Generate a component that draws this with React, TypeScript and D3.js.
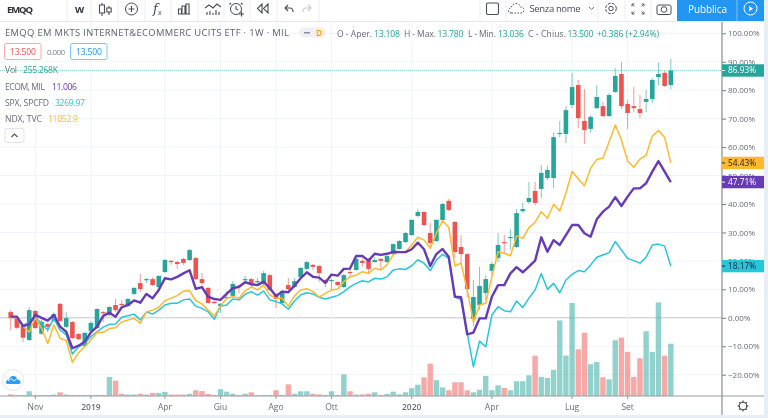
import { useEffect, useRef } from "react";
import * as d3 from "d3";

const WIDTH = 768;
const HEIGHT = 418;

// percent change from the first bar
const openVals = [
  2.0, -0.1, -2.8, -7.8, 2.4, -5.6, -2.2, -1.1, 4.9, -3.2,
  -1.5, -5.7, -9.9, -4.6, -3.6, 2.0, 1.0, 4.5, 4.9, 4.1,
  8.4, 12.2, 13.3, 13.6, 10.8, 16.1, 20.0, 19.6, 20.7, 20.3,
  21.0, 13.6, 10.5, 5.6, 4.1, 7.0, 7.7, 11.2, 13.3, 13.6,
  12.6, 11.9, 15.0, 8.0, 5.2, 11.5, 10.8, 14.3, 17.2, 18.6,
  18.2, 13.3, 12.9, 12.6, 10.8, 16.1, 16.8, 20.0, 20.7, 19.6,
  20.7, 19.6, 22.4, 24.2, 26.6, 29.1, 35.8, 37.2, 29.8, 27.0,
  34.4, 41.1, 33.7, 24.9, 22.4, -0.4, 4.5, 8.7, 16.5, 21.0,
  26.6, 28.1, 24.9, 37.5, 40.7, 44.6, 45.3, 49.1, 49.1, 64.6,
  64.6, 74.8, 81.8, 69.2, 66.4, 73.7, 74.4, 70.9, 79.4, 85.7,
  75.2, 74.4, 73.4, 75.9, 76.9, 84.6, 86.1, 81.8,
];
const highVals = [
  2.7, 0.3, -2.2, 3.8, 2.7, -0.8, -1.8, 2.0, 5.2, 2.0,
  -1.1, -5.3, -5.0, -1.1, 3.4, 2.4, 4.1, 6.6, 6.3, 7.0,
  10.8, 15.4, 14.0, 14.3, 15.0, 20.7, 20.3, 20.0, 21.0, 24.2,
  21.4, 15.7, 10.8, 5.9, 5.2, 9.4, 12.9, 11.5, 14.7, 14.0,
  14.0, 16.5, 15.4, 8.7, 9.8, 14.0, 14.0, 17.9, 20.0, 18.9,
  18.6, 13.6, 13.6, 12.9, 15.4, 17.2, 21.0, 20.7, 21.0, 21.4,
  21.0, 22.1, 26.2, 27.3, 30.2, 34.7, 38.2, 37.5, 33.3, 34.7,
  40.4, 41.8, 34.0, 29.1, 22.8, 13.3, 17.9, 15.0, 19.6, 29.8,
  29.1, 31.2, 38.2, 40.4, 47.7, 47.7, 53.7, 53.4, 65.0, 69.2,
  74.4, 86.1, 83.6, 80.4, 71.3, 81.8, 75.9, 79.0, 87.8, 89.9,
  76.6, 81.1, 78.3, 80.1, 84.3, 89.6, 86.8, 91.0,
];
const lowVals = [
  -4.3, -3.9, -8.5, -8.2, -3.9, -6.0, -5.0, -1.5, -1.5, -3.6,
  -7.5, -7.8, -10.3, -5.0, -3.9, -1.5, 0.6, 2.0, 3.4, 3.8,
  8.0, 9.1, 12.2, 11.2, 10.5, 15.7, 18.6, 17.2, 18.6, 20.0,
  13.3, 11.5, 4.9, 4.9, 1.7, 6.6, 7.3, 8.7, 12.9, 11.2,
  11.9, 11.5, 9.4, 3.4, 4.9, 9.8, 10.5, 14.0, 16.8, 16.8,
  12.6, 10.8, 9.8, 11.2, 10.5, 14.3, 16.5, 17.9, 15.4, 19.3,
  16.8, 19.3, 22.1, 23.8, 26.3, 28.8, 35.4, 32.3, 24.2, 26.6,
  34.0, 37.5, 21.0, 18.6, 7.3, -2.9, 2.7, 6.3, 15.0, 19.6,
  22.8, 23.8, 24.5, 36.8, 40.0, 39.6, 42.1, 48.4, 45.6, 63.5,
  61.4, 73.7, 66.7, 61.1, 65.0, 73.4, 70.6, 70.6, 79.0, 73.4,
  66.4, 72.3, 70.2, 72.3, 75.5, 81.8, 81.1, 80.4,
];
const closeVals = [
  -0.1, -3.5, -7.0, 2.7, -3.6, -1.4, -3.2, 1.3, -1.1, -0.1,
  -7.1, -7.5, -5.3, -1.8, 3.1, 1.7, 3.8, 2.7, 4.5, 6.6,
  10.5, 10.1, 13.6, 11.5, 14.7, 20.3, 19.6, 18.9, 19.3, 23.8,
  13.6, 12.2, 5.2, 5.2, 4.9, 7.3, 11.9, 10.8, 13.6, 11.5,
  12.9, 15.7, 9.8, 6.6, 9.4, 10.1, 12.9, 17.5, 19.6, 17.9,
  15.7, 12.2, 13.3, 11.5, 15.0, 15.7, 20.7, 19.3, 17.2, 20.3,
  20.0, 21.7, 25.9, 27.0, 29.8, 34.4, 37.2, 32.6, 26.3, 34.4,
  40.0, 37.9, 23.1, 22.4, 10.1, 7.3, 11.2, 13.6, 18.9, 25.6,
  26.3, 28.4, 36.8, 38.2, 42.1, 40.4, 50.9, 52.0, 63.5, 65.0,
  73.0, 81.1, 70.2, 66.0, 70.6, 77.6, 70.9, 78.3, 85.0, 74.4,
  72.0, 73.7, 72.0, 76.9, 83.6, 85.7, 81.5, 86.93,
];
const ecomVals = [
  0.4, 0.4, -2.9, -2.2, 1.0, 0.0, -1.0, 1.0, -3.1, -4.9,
  -10.7, -9.8, -8.4, -5.1, -3.1, 0.7, 1.8, 0.4, 3.7, 4.5,
  6.1, 5.3, 8.4, 6.9, 9.8, 13.9, 13.5, 14.4, 15.6, 16.7,
  10.2, 10.8, 7.4, 6.6, 6.3, 8.4, 10.4, 10.9, 12.5, 11.8,
  11.5, 12.7, 10.4, 7.7, 9.2, 9.0, 11.3, 13.9, 16.0, 14.4,
  14.1, 12.3, 15.2, 14.8, 17.2, 17.3, 21.7, 21.7, 20.1, 22.5,
  22.1, 22.5, 23.2, 23.1, 23.1, 24.1, 26.4, 24.1, 18.2, 22.4,
  24.2, 21.5, 7.4, 7.2, -5.8, -5.2, -0.2, -0.2, 7.4, 11.5,
  11.5, 15.6, 17.8, 16.0, 18.0, 20.1, 28.3, 23.2, 27.3, 25.6,
  29.1, 32.6, 32.6, 29.7, 28.5, 34.6, 37.3, 39.1, 42.4, 39.3,
  42.6, 45.5, 45.5, 47.3, 51.4, 55.1, 51.4, 47.71,
];
const spxVals = [
  0.2, 0.0, -2.5, -1.8, 0.2, -2.0, -4.3, -0.2, -4.3, -6.0,
  -12.7, -10.2, -9.0, -6.6, -4.9, -3.3, -2.3, -2.2, 0.2, 0.7,
  1.3, -0.8, 2.1, 1.3, 2.7, 4.5, 5.1, 5.1, 6.3, 6.6,
  4.1, 3.3, 2.1, -0.5, 4.1, 4.5, 6.6, 6.3, 8.3, 9.2,
  8.0, 9.4, 6.3, 5.7, 4.9, 3.0, 5.9, 8.0, 8.8, 8.4,
  7.2, 6.6, 7.2, 7.8, 9.2, 10.9, 12.1, 13.0, 12.6, 13.9,
  13.6, 14.4, 16.8, 17.2, 17.0, 18.3, 20.4, 19.2, 16.6, 20.3,
  22.3, 20.9, 7.4, 6.3, -5.4, -17.2, -8.2, -10.2, 1.0, 3.9,
  2.5, 2.1, 5.9, 3.6, 6.9, 9.8, 15.6, 10.0, 12.1, 8.8,
  13.3, 15.3, 16.6, 16.2, 18.6, 21.3, 22.1, 22.9, 26.8, 23.8,
  20.9, 20.1, 19.2, 21.3, 25.6, 25.9, 25.2, 18.17,
];
const ndxVals = [
  0.2, 0.0, -3.0, -5.0, 0.0, -3.6, -9.0, -2.5, -7.2, -8.0,
  -15.6, -12.3, -10.2, -7.8, -5.2, -5.1, -3.8, -3.5, -1.5, -0.8,
  -0.2, -1.9, 2.1, 2.7, 3.7, 6.0, 6.9, 7.8, 9.4, 9.5,
  6.0, 4.9, 2.7, 0.6, 4.1, 6.9, 7.4, 6.9, 9.5, 10.9,
  9.8, 11.5, 8.0, 6.9, 6.9, 4.1, 7.7, 9.8, 10.2, 9.2,
  7.3, 8.6, 9.8, 10.1, 12.7, 14.4, 15.0, 16.2, 15.6, 17.4,
  16.8, 18.6, 22.1, 23.2, 23.2, 25.6, 28.3, 27.3, 24.4, 29.7,
  34.1, 31.8, 18.2, 19.2, 9.8, -1.4, 4.5, 5.1, 14.4, 23.2,
  22.7, 21.8, 28.8, 27.9, 31.7, 33.6, 37.3, 35.0, 39.9, 37.5,
  43.9, 51.4, 48.9, 46.4, 52.5, 55.7, 56.1, 61.9, 67.8, 62.5,
  55.1, 52.9, 55.8, 57.2, 63.9, 65.8, 63.4, 54.43,
];
// thousands
const volumeVals = [
  8, 5, 5, 23, 5, 5, 5, 7, 18, 7,
  5, 5, 5, 5, 5, 5, 93, 75, 11, 7,
  7, 11, 7, 15, 15, 20, 7, 7, 7, 11,
  28, 24, 10, 5, 33, 21, 11, 5, 11, 18,
  5, 5, 5, 28, 5, 57, 11, 23, 23, 11,
  8, 5, 23, 5, 106, 23, 7, 8, 11, 18,
  5, 10, 21, 8, 18, 38, 55, 91, 158, 77,
  42, 28, 67, 67, 28, 18, 31, 98, 28, 52,
  39, 28, 72, 72, 101, 197, 93, 88, 128, 369,
  197, 454, 228, 309, 155, 166, 91, 81, 272, 285,
  215, 93, 184, 316, 215, 457, 197, 255.268,
];

const yTicks = [100, 90, 80, 70, 60, 50, 40, 30, 20, 10, 0, -10, -20];
const timeTickIdx = [4, 13, 25, 34, 43, 52, 65, 78, 91, 100];
const timeTickLabels = ["Nov", "2019", "Apr", "Giu", "Ago", "Ott", "2020", "Apr", "Lug", "Set"];
const boldTimeLabels = ["2019", "2020"];

const UP = "#26a69a";
const DOWN = "#ef5350";
const PURPLE = "#673ab7";
const CYAN = "#26c6da";
const YELLOW = "#ffb92f";
const GRID = "#f0f3f9";
const TXT = "#6a6d78";
const FONT = "'Open Sans', sans-serif";

export default function App() {
  const ref = useRef<SVGSVGElement>(null);

  useEffect(() => {
    const svg = d3.select(ref.current);
    svg.selectAll("*").remove();
    svg.attr("width", WIDTH).attr("height", HEIGHT).style("font-family", FONT);

    const axisX = 722;
    const bottomY = 396;
    const topY = 22;

    const x = d3.scaleLinear().domain([0, openVals.length - 1]).range([10.7, 670.8]);
    const y = d3.scaleLinear().domain([100, -20]).range([33.3, 374.7]);
    const volY = d3.scaleLinear().domain([0, 255.268]).range([bottomY, bottomY - 52.3]);
    const idx = d3.range(openVals.length);

    svg.append("rect").attr("width", WIDTH).attr("height", HEIGHT).attr("fill", "#fff");

    // grid
    const grid = svg.append("g");
    grid.selectAll("line.h").data(yTicks).enter().append("line")
      .attr("x1", 0).attr("x2", axisX)
      .attr("y1", (d) => y(d)).attr("y2", (d) => y(d))
      .attr("stroke", (d) => (d === 0 ? "#c4c5c9" : GRID));
    grid.selectAll("line.v").data(timeTickIdx).enter().append("line")
      .attr("x1", (d) => x(d)).attr("x2", (d) => x(d))
      .attr("y1", topY).attr("y2", bottomY)
      .attr("stroke", GRID);

    // volume
    svg.append("g").selectAll("rect").data(idx).enter().append("rect")
      .attr("x", (i) => x(i) - 2.7).attr("width", 5.4)
      .attr("y", (i) => volY(volumeVals[i]))
      .attr("height", (i) => bottomY - volY(volumeVals[i]))
      .attr("fill", (i) => (closeVals[i] >= openVals[i] ? UP : DOWN))
      .attr("opacity", 0.5);

    // last price dotted line
    svg.append("line")
      .attr("x1", 0).attr("x2", axisX)
      .attr("y1", y(closeVals[107])).attr("y2", y(closeVals[107]))
      .attr("stroke", UP).attr("stroke-width", 1)
      .attr("stroke-dasharray", "1 1").attr("opacity", 0.5);

    // candles
    const candles = svg.append("g");
    candles.selectAll("line").data(idx).enter().append("line")
      .attr("x1", (i) => x(i)).attr("x2", (i) => x(i))
      .attr("y1", (i) => y(highVals[i])).attr("y2", (i) => y(lowVals[i]))
      .attr("stroke", (i) => (closeVals[i] >= openVals[i] ? UP : DOWN))
      .attr("stroke-opacity", 0.6);
    candles.selectAll("rect").data(idx).enter().append("rect")
      .attr("x", (i) => x(i) - 2.3).attr("width", 4.6)
      .attr("y", (i) => y(Math.max(openVals[i], closeVals[i])))
      .attr("height", (i) => Math.max(1.2, Math.abs(y(openVals[i]) - y(closeVals[i]))))
      .attr("fill", (i) => (closeVals[i] >= openVals[i] ? UP : DOWN));

    // compare lines
    const line = d3.line<number>().x((_, i) => x(i)).y((d) => y(d));
    const series: [number[], string, number][] = [
      [spxVals, CYAN, 1.5],
      [ndxVals, YELLOW, 1.5],
      [ecomVals, PURPLE, 2.4],
    ];
    series.forEach(([vals, color, w]) => {
      svg.append("path").datum(vals).attr("d", line)
        .attr("fill", "none").attr("stroke", color)
        .attr("stroke-width", w).attr("stroke-linejoin", "round");
    });

    // white behind the axes
    svg.append("rect").attr("x", axisX).attr("y", topY).attr("width", 42).attr("height", 393).attr("fill", "#fff");
    svg.append("rect").attr("x", 0).attr("y", bottomY).attr("width", 764).attr("height", 19).attr("fill", "#fff");

    // y axis
    const yAxis = d3.axisRight(y)
      .tickValues(yTicks)
      .tickSize(4)
      .tickPadding(2)
      .tickFormat((d) => `${(d as number) < 0 ? "\u2212" : ""}${Math.abs(d as number).toFixed(2)}%`);
    const yG = svg.append("g").attr("transform", `translate(${axisX},0)`).call(yAxis);
    yG.select(".domain").remove();
    yG.selectAll("line").attr("stroke", "#787b86");
    yG.selectAll("text").attr("fill", TXT).style("font-size", "8px").style("font-family", FONT);
    svg.append("line").attr("x1", axisX).attr("x2", axisX).attr("y1", topY).attr("y2", 415)
      .attr("stroke", "#8a8d96").attr("stroke-width", 1.2);

    // time axis
    svg.append("line").attr("x1", 0).attr("x2", 764).attr("y1", bottomY).attr("y2", bottomY)
      .attr("stroke", "#9a9ca4").attr("stroke-width", 1);
    const tG = svg.append("g");
    tG.selectAll("line").data(timeTickIdx).enter().append("line")
      .attr("x1", (d) => x(d)).attr("x2", (d) => x(d))
      .attr("y1", bottomY).attr("y2", bottomY + 3)
      .attr("stroke", "#9a9ca4");
    tG.selectAll("text").data(timeTickIdx).enter().append("text")
      .attr("x", (d) => x(d)).attr("y", 409.5)
      .attr("text-anchor", "middle").attr("fill", TXT)
      .style("font-size", "8.5px")
      .style("font-weight", (_, i) => (boldTimeLabels.includes(timeTickLabels[i]) ? 600 : 400))
      .text((_, i) => timeTickLabels[i]);

    // last value tags
    const tags: [number, string, string][] = [
      [closeVals[107], UP, "#fff"],
      [ndxVals[107], YELLOW, "#222"],
      [ecomVals[107], PURPLE, "#fff"],
      [spxVals[107], CYAN, "#123"],
    ];
    tags.forEach(([v, fill, ink]) => {
      svg.append("rect").attr("x", axisX).attr("y", y(v) - 6.2).attr("width", 42).attr("height", 12.4).attr("fill", fill);
      svg.append("line").attr("x1", axisX).attr("x2", axisX + 3).attr("y1", y(v)).attr("y2", y(v)).attr("stroke", ink);
      svg.append("text").attr("x", axisX + 6).attr("y", y(v) + 3)
        .attr("fill", ink).style("font-size", "8.3px").text(`${v.toFixed(2)}%`);
    });

    // helper for plain text, width
    const label = (tx: number, ty: number, s: string, w: number, fill = TXT, size = 8.6, weight = 400) =>
      svg.append("text").attr("x", tx).attr("y", ty).attr("fill", fill)
        .attr("textLength", w).attr("lengthAdjust", "spacing")
        .style("font-size", `${size}px`).style("font-weight", weight).text(s);

    // legend
    label(5, 36, "EMQQ EM MKTS INTERNET&ECOMMERC UCITS ETF · 1W · MIL", 284, "#5f626c", 9.4);
    svg.append("rect").attr("x", 299).attr("y", 27.5).attr("width", 27).attr("height", 10).attr("rx", 5).attr("fill", "#f0f1f4");
    svg.append("rect").attr("x", 313).attr("y", 27.5).attr("width", 13).attr("height", 10).attr("rx", 5).attr("fill", "#fdf0dd");
    svg.append("rect").attr("x", 304).attr("y", 32).attr("width", 6).attr("height", 1.5).attr("fill", "#8a8d96");
    label(316, 35.5, "D", 5, "#ff9800", 8, 600);

    label(337, 36.5, "O - Aper.", 35);
    label(374, 36.5, "13.108", 26, UP);
    label(404, 36.5, "H - Max.", 32);
    label(437.5, 36.5, "13.780", 26, UP);
    label(468, 36.5, "L - Min.", 28);
    label(498, 36.5, "13.036", 26, UP);
    label(528, 36.5, "C - Chius.", 38);
    label(567.5, 36.5, "13.500", 26, UP);
    label(597, 36.5, "+0.386 (+2.94%)", 62, UP);

    svg.append("rect").attr("x", 4.5).attr("y", 43.5).attr("width", 36.5).attr("height", 16).attr("rx", 2)
      .attr("fill", "#fff").attr("stroke", "#f7a9a7");
    label(10, 54.5, "13.500", 26, DOWN);
    label(47, 54.5, "0.000", 18, "#7d808a", 8);
    svg.append("rect").attr("x", 70.5).attr("y", 43.5).attr("width", 36.5).attr("height", 16).attr("rx", 2)
      .attr("fill", "#fff").attr("stroke", "#7cc4fb");
    label(76, 54.5, "13.500", 26, "#2196f3");

    label(5, 73, "Vol", 12);
    label(23, 73, "255.268K", 35, UP);
    label(5, 90, "ECOM, MIL", 40);
    label(52, 90, "11.006", 25, PURPLE);
    label(5, 106, "SPX, SPCFD", 44);
    label(55, 106, "3269.97", 30, CYAN);
    label(5, 122, "NDX, TVC", 37);
    label(48, 122, "11052.9", 30, YELLOW);
    svg.append("rect").attr("x", 5).attr("y", 128.5).attr("width", 19).attr("height", 14).attr("rx", 2)
      .attr("fill", "#fff").attr("stroke", "#e0e3eb");
    svg.append("path").attr("d", "M11.5 137l3-3 3 3").attr("fill", "none").attr("stroke", "#555").attr("stroke-width", 1.2);

    // cloud badge
    svg.append("circle").attr("cx", 13).attr("cy", 380).attr("r", 10.5).attr("fill", "#fff").attr("stroke", "#e6e8ee");
    svg.append("path").attr("d", "M6 383c0-3 2-3.5 3-3.5 .5-2.5 2.5-4 4.5-3.5 2 0 3.5 1.5 4 3.5 1.5 0 3 1 3 2.5 0 1.5-1 2-2 2H8c-1 0-2-.5-2-1z")
      .attr("fill", "#2a9df4");
    svg.append("path").attr("d", "M8 381l3-2.5 3 2.5 3-2.5").attr("fill", "none").attr("stroke", "#fff").attr("stroke-width", 0.9);

    // gear bottom right
    const gearG = svg.append("g").attr("transform", "translate(743,406)");
    gearG.append("circle").attr("r", 3.8).attr("fill", "none").attr("stroke", "#444").attr("stroke-width", 1.1);
    d3.range(8).forEach((k) => {
      const a = (k * Math.PI) / 4;
      gearG.append("line")
        .attr("x1", 3.8 * Math.cos(a)).attr("y1", 3.8 * Math.sin(a))
        .attr("x2", 5.4 * Math.cos(a)).attr("y2", 5.4 * Math.sin(a))
        .attr("stroke", "#444").attr("stroke-width", 1.1);
    });

    // toolbar
    svg.append("rect").attr("width", WIDTH).attr("height", 21).attr("fill", "#fff");
    svg.append("line").attr("x1", 0).attr("x2", 764).attr("y1", 21.5).attr("y2", 21.5).attr("stroke", "#e6e8ee");
    [67, 91, 118, 145, 171, 198, 224, 250, 277, 319, 480, 506, 598, 625, 651].forEach((sx) => {
      svg.append("line").attr("x1", sx).attr("x2", sx).attr("y1", 0).attr("y2", 21).attr("stroke", "#eceef2");
    });
    label(7, 12.5, "EMQQ", 26, "#2e3038", 9.5, 700);
    label(75, 12.5, "W", 8, "#2e3038", 9.5, 700);

    const ink = "#4a4c55";
    const stroke = (d: string, c = ink, w = 1.1) =>
      svg.append("path").attr("d", d).attr("fill", "none").attr("stroke", c).attr("stroke-width", w);

    // candle icon
    stroke("M102 3v2M102 13v3M102 5h2.5v8h-5v-8zM109 6v2M109 12v3M106.8 8h4.4v4h-4.4z");
    // plus circle
    svg.append("circle").attr("cx", 131.5).attr("cy", 9).attr("r", 6).attr("fill", "none").attr("stroke", ink);
    stroke("M128.5 9h6M131.5 6v6");
    // fx
    svg.append("text").attr("x", 153).attr("y", 13).attr("fill", ink).style("font-family", "'DejaVu Serif', serif")
      .style("font-style", "italic").style("font-size", "13px").text("f");
    svg.append("text").attr("x", 158).attr("y", 15).attr("fill", ink).style("font-size", "7px").text("x");
    // bars
    stroke("M178.5 14v-5h3v5M182 14v-8h3v8M186 14V4h3v10M178 14h12");
    // indicators
    stroke("M205 8l4-3 4 3 4-4 4 3M207 15v-3M210 15v-4M213 15v-2M216 15v-5M219 15v-3");
    // alarm
    svg.append("circle").attr("cx", 236).attr("cy", 9).attr("r", 5.5).attr("fill", "none").attr("stroke", ink);
    stroke("M231 3l-1.5 1.5M241 3l1.5 1.5M236 6v3l2 1M239 14h5M241.5 11.5v5");
    // replay
    stroke("M262 4l-4.5 4.5 4.5 4.5zM268 4l-4.5 4.5 4.5 4.5z");
    // undo, redo
    stroke("M288 5l-3 3 3 3M285 8h5c2 0 3 1.5 3 4");
    stroke("M308 5l3 3-3 3M311 8h-5c-2 0-3 1.5-3 4", "#c9cbd1");
    // square
    svg.append("rect").attr("x", 486.5).attr("y", 3).attr("width", 12).attr("height", 11.5).attr("rx", 1.5)
      .attr("fill", "none").attr("stroke", ink).attr("stroke-width", 1.1);
    // cloud dashed
    svg.append("path").attr("d", "M511.5 13c-2 0-3-1-3-2.5s1-2.5 2.5-2.5c.5-2.5 2.5-4.5 5-4.5s4.5 2 5 4c1.5 0 3 1 3 2.5s-1 3-3 3z")
      .attr("fill", "none").attr("stroke", ink).attr("stroke-dasharray", "1.5 1.5");
    label(529.5, 12, "Senza nome", 51, "#4a4c55", 9.5);
    stroke("M589 7l2.5 2.5L594 7", "#777", 1);
    // settings
    svg.append("circle").attr("cx", 611).attr("cy", 8.5).attr("r", 2.2).attr("fill", "none").attr("stroke", ink);
    svg.append("circle").attr("cx", 611).attr("cy", 8.5).attr("r", 5.3).attr("fill", "none").attr("stroke", ink)
      .attr("stroke-dasharray", "3 1.2");
    // fullscreen
    stroke("M632 4h2.5M632 4v2.5M632 4l2.5 2.5M644 4h-2.5M644 4v2.5M644 4l-2.5 2.5M632 14h2.5M632 14v-2.5M632 14l2.5-2.5M644 14h-2.5M644 14v-2.5M644 14l-2.5-2.5", "#555", 0.9);
    // camera
    svg.append("rect").attr("x", 657).attr("y", 5).attr("width", 14).attr("height", 9.5).attr("rx", 1.5)
      .attr("fill", "none").attr("stroke", ink);
    svg.append("circle").attr("cx", 664).attr("cy", 9.5).attr("r", 2.8).attr("fill", "none").attr("stroke", ink);

    // publish buttons
    svg.append("rect").attr("x", 677).attr("width", 87).attr("height", 21).attr("fill", "#2196f3");
    svg.append("line").attr("x1", 737).attr("x2", 737).attr("y1", 0).attr("y2", 21).attr("stroke", "#7cc4fb");
    label(688, 12.5, "Pubblica", 39, "#fff", 10);
    svg.append("circle").attr("cx", 750.5).attr("cy", 8.5).attr("r", 6.5).attr("fill", "none").attr("stroke", "#fff");
    svg.append("path").attr("d", "M749 6v5.5l4-2.7z").attr("fill", "#fff");

    // page edges
    svg.append("rect").attr("x", 764).attr("y", 0).attr("width", 4).attr("height", HEIGHT).attr("fill", "#e9edf6");
    svg.append("rect").attr("x", 0).attr("y", 415).attr("width", WIDTH).attr("height", 3).attr("fill", "#e9edf6");
  }, []);

  return (
    <svg
      ref={ref}
      style={{ position: "absolute", left: 0, top: 0, display: "block", filter: "blur(0.35px)" }}
    ></svg>
  );
}
